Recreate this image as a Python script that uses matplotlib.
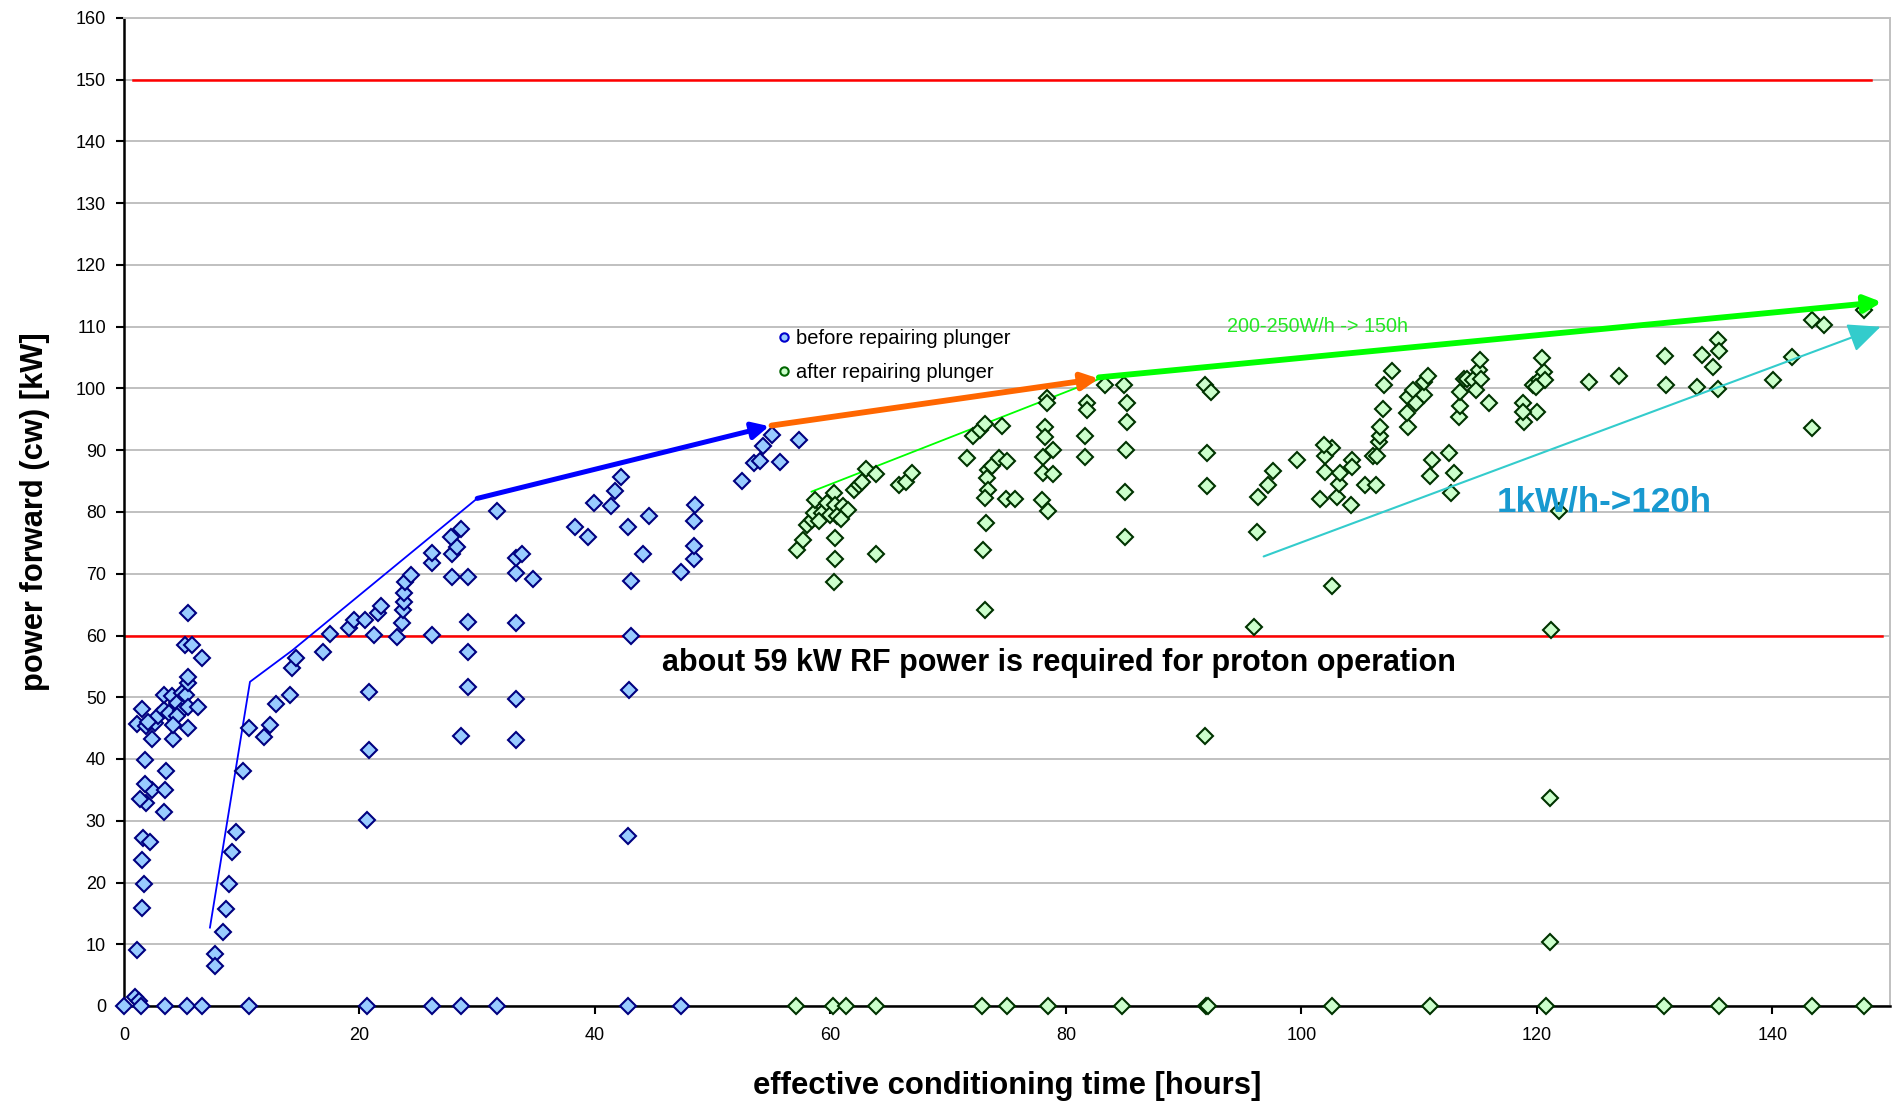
import matplotlib
matplotlib.use("Agg")
import matplotlib.pyplot as plt
from matplotlib import font_manager
from matplotlib.lines import Line2D

# ---------------- data ----------------
before_hours = [0, 0.96, 1.25, 1.45, 3.5, 5.35, 6.6, 10.6, 20.6, 26.2, 28.6, 31.7, 42.8, 47.3,
                1.1, 1.5, 1.7, 1.5, 1.6, 2.2, 1.9, 1.4, 3.4, 2.4, 3.5, 1.8, 3.6, 1.8, 4.2, 2.4,
                1.1, 1.9, 2.6, 2.9, 2.0, 1.5, 3.4, 3.4, 4.1, 4.5, 4.9, 5.3, 3.8, 4.8, 4.5, 4.2,
                5.4, 5.4, 6.3, 5.4, 5.4, 5.2, 5.8, 6.6, 5.4,
                7.7, 7.7, 8.4, 8.7, 8.9, 9.2, 9.5, 10.1, 10.6, 11.9, 12.4, 12.9, 14.1, 14.3, 14.6,
                16.9, 17.5, 19.1, 19.5, 20.5, 21.2, 21.6, 21.8, 20.8, 20.8, 20.6, 23.2, 23.6, 23.7,
                23.8, 23.8, 23.9, 24.4, 26.2, 26.2, 26.2, 27.9, 29.2, 27.9, 28.3, 27.8, 28.6, 29.2,
                29.2, 29.2, 28.6, 31.7, 33.3, 33.3, 33.3, 33.3, 33.3, 33.8, 34.7, 38.3, 39.4, 39.9,
                41.4, 41.7, 42.2, 42.8, 43.1, 43.1, 42.9, 42.8, 44.1, 44.6, 47.3, 48.4, 48.4, 48.4,
                48.5, 52.5, 53.5, 54.0, 54.3, 55.0, 55.7, 57.3]
before_kw = [0, 1.5, 0.8, 0, 0, 0, 0, 0, 0, 0, 0, 0, 0, 0,
             9.1, 15.8, 19.7, 23.6, 27.2, 26.6, 32.8, 33.5, 31.4, 34.9, 34.9, 36.0, 38.1, 39.9, 43.3, 43.3,
             45.7, 45.3, 45.8, 46.9, 46.0, 48.1, 48.0, 50.3, 50.2, 49.1, 50.7, 50.4, 47.5, 47.8, 46.9, 45.5,
             45.1, 48.5, 48.5, 52.3, 53.2, 58.4, 58.4, 56.3, 63.7,
             8.5, 6.4, 12.0, 15.7, 19.8, 24.9, 28.2, 38.0, 45.1, 43.6, 45.5, 48.9, 50.3, 54.7, 56.3,
             57.4, 60.3, 61.2, 62.5, 62.5, 60.1, 63.6, 64.7, 50.9, 41.4, 30.1, 59.8, 62.0, 64.2,
             65.5, 66.9, 68.7, 69.8, 60.1, 71.8, 73.3, 69.4, 69.4, 73.2, 74.4, 75.9, 77.2, 62.2,
             57.4, 51.7, 43.8, 80.2, 62.0, 49.7, 43.1, 70.2, 72.5, 73.2, 69.2, 77.5, 76.0, 81.5,
             80.9, 83.4, 85.7, 77.5, 68.9, 60.0, 51.2, 27.6, 73.2, 79.3, 70.3, 72.4, 74.5, 78.5,
             81.2, 85.1, 87.9, 88.3, 90.7, 92.5, 88.1, 91.7]

after_hours = [57.1, 60.2, 61.3, 63.9, 72.9, 75.0, 78.5, 84.8, 91.9, 92.1, 102.6, 110.9, 120.8,
               130.8, 135.5, 143.4, 147.8,
               57.2, 57.7, 58.0, 58.4, 58.6, 58.7, 59.3, 59.7, 60.0, 60.3, 60.4, 60.6, 61.1, 61.5,
               59.0, 60.9, 60.4, 60.4, 60.3, 62.0, 62.4, 62.7, 63.0, 63.9, 63.9, 65.8, 66.4, 66.9,
               71.6, 72.1, 72.7, 73.1, 74.6, 73.4, 73.7, 74.3, 75.0, 73.3, 73.4, 73.1, 74.9, 75.7,
               73.2, 73.0, 73.1, 78.4, 78.4, 78.2, 78.2, 78.9, 78.1, 78.1, 78.9, 78.0, 78.5, 81.8,
               81.8, 81.6, 81.6,
               83.3, 84.9, 85.2, 85.2, 85.1, 85.0, 85.0, 91.8, 92.3, 92.0, 92.0, 91.8, 96.2, 96.0,
               96.3, 97.2, 97.6, 99.6, 101.6, 102.0, 102.0, 102.6, 101.9, 103.0, 103.2, 103.3,
               104.2, 104.3, 104.3, 102.6, 105.4, 106.3, 106.1, 106.4, 106.6, 106.7, 106.7, 106.9,
               107.0, 107.7, 109.1, 109.0, 109.1, 109.5, 109.7, 110.4, 110.4, 110.8, 111.1, 110.9,
               112.5, 113.0, 112.7, 113.4, 113.5, 113.5, 113.8, 114.1, 114.6, 114.8, 115.1, 115.2,
               115.3, 115.9, 118.8, 118.9, 120.0, 118.8, 119.7, 120.2, 120.6, 120.7, 120.4, 119.9,
               121.9, 121.2, 121.1, 121.1, 124.4,
               127.0, 130.9, 131.0, 133.6, 134.0, 135.4, 135.5, 135.0, 135.4, 140.1, 141.7, 143.4,
               143.4, 144.4, 147.8]
after_kw = [0, 0, 0, 0, 0, 0, 0, 0, 0, 0, 0, 0, 0,
            0, 0, 0, 0,
            73.9, 75.5, 77.9, 78.7, 79.8, 82.0, 79.9, 81.4, 79.5, 83.0, 81.2, 79.3, 81.0, 80.4,
            78.5, 78.8, 75.8, 72.4, 68.7, 83.5, 84.4, 84.9, 86.9, 86.2, 73.2, 84.4, 84.9, 86.3,
            88.7, 92.3, 93.3, 94.2, 94.0, 86.8, 87.4, 88.7, 88.2, 85.5, 83.6, 82.2, 82.1, 82.1,
            78.2, 73.9, 64.2, 98.4, 97.6, 93.8, 92.2, 90.1, 88.9, 86.3, 86.2, 82.0, 80.1, 97.7,
            96.5, 92.3, 88.9,
            100.5, 100.5, 97.6, 94.6, 90.0, 83.3, 76.0, 100.6, 99.5, 89.5, 84.2, 43.8, 76.7, 61.3,
            82.5, 84.4, 86.7, 88.5, 82.1, 86.5, 89.0, 90.3, 90.9, 82.5, 84.6, 86.3,
            81.1, 88.4, 87.3, 68.0, 84.4, 84.4, 89.0, 89.0, 91.4, 92.3, 93.8, 96.7,
            100.5, 102.8, 93.8, 96.0, 98.7, 99.8, 97.6, 99.0, 101.1, 102.0, 88.5, 85.8,
            89.5, 86.3, 83.0, 95.4, 97.1, 99.5, 101.6, 101.6, 101.4, 99.8, 103.0, 104.6,
            101.6, 97.7, 97.6, 94.6, 96.2, 96.2, 100.6, 101.4, 102.7, 101.4, 104.9, 100.3,
            80.1, 60.9, 33.7, 10.4, 101.1,
            102.0, 105.3, 100.5, 100.3, 105.4, 107.9, 106.1, 103.5, 99.9, 101.4, 105.1, 93.6,
            111.1, 110.3, 112.7]

series_labels = ["before repairing plunger", "after repairing plunger"]

# reference lines (kW)
limit_150_hours = [0.8, 148.4]
limit_150_kw = [150, 150]
limit_60_hours = [0, 149.3]
limit_60_kw = [60, 60]

# hand-drawn trend lines / arrows (hours, kW)
blue_thin_hours = [7.3, 10.7, 14.3, 30.0]
blue_thin_kw = [12.7, 52.5, 57.6, 82.2]
blue_arrow_hours = [30.0, 54.8]
blue_arrow_kw = [82.2, 93.9]
orange_arrow_hours = [55.0, 82.8]
orange_arrow_kw = [94.0, 101.6]
green_arrow_hours = [82.8, 149.3]
green_arrow_kw = [101.8, 114.0]
green_thin_hours = [58.4, 82.9]
green_thin_kw = [83.3, 101.6]
cyan_arrow_hours = [96.8, 149.2]
cyan_arrow_kw = [72.8, 110.0]

x_ticks = [0, 20, 40, 60, 80, 100, 120, 140]
y_ticks = list(range(0, 161, 10))

# ---------------- fonts ----------------
names = {f.name for f in font_manager.fontManager.ttflist}
has_narrow = "Liberation Sans Narrow" in names
tick_family = ["Liberation Sans Narrow", "Liberation Sans", "DejaVu Sans"] if has_narrow else ["Liberation Sans", "DejaVu Sans"]
tick_size = 15 if has_narrow else 13
legend_size = 15 if has_narrow else 14.5
plt.rcParams["font.family"] = ["Liberation Sans", "DejaVu Sans"]

# ---------------- figure ----------------
fig = plt.figure(figsize=(18.95, 11.01), dpi=100)
ax = fig.add_axes([124 / 1895, 1 - 1006 / 1101, (1890 - 124) / 1895, (1006 - 18) / 1101])

ax.set_xlim(0, 150)
ax.set_ylim(0, 160)
ax.set_xticks(x_ticks)
ax.set_yticks(y_ticks)
ax.yaxis.grid(True, color="#C0C0C0", lw=1.4)
ax.set_axisbelow(True)

for lbl in ax.get_xticklabels() + ax.get_yticklabels():
    lbl.set_family(tick_family)
    lbl.set_fontsize(tick_size)
ax.tick_params(axis="both", direction="out", length=6, width=1.5, colors="black")
ax.tick_params(axis="y", pad=7)
ax.tick_params(axis="x", pad=9)

ax.spines["left"].set_linewidth(1.8)
ax.spines["bottom"].set_linewidth(1.8)
ax.spines["top"].set_color("#C0C0C0")
ax.spines["top"].set_linewidth(1.4)
ax.spines["right"].set_color("#C0C0C0")
ax.spines["right"].set_linewidth(1.4)

# red limit lines
ax.plot(limit_150_hours, limit_150_kw, color="#FF0000", lw=1.8, zorder=2)
ax.plot(limit_60_hours, limit_60_kw, color="#FF0000", lw=1.8, zorder=2)

# thin trend lines
ax.plot(blue_thin_hours, blue_thin_kw, color="#0000FF", lw=1.3, zorder=2.5)
ax.plot(green_thin_hours, green_thin_kw, color="#00FF00", lw=1.3, zorder=2.5)


def arrow(xs, ys, color, lw, hl, hw, ms, z=4):
    ax.annotate("", xy=(xs[1], ys[1]), xytext=(xs[0], ys[0]),
                arrowprops=dict(arrowstyle=f"-|>,head_length={hl},head_width={hw}",
                                color=color, lw=lw, shrinkA=0, shrinkB=0,
                                mutation_scale=ms),
                zorder=z)


arrow(blue_arrow_hours, blue_arrow_kw, "#0000FF", 3.6, 0.5, 0.25, 20)
arrow(orange_arrow_hours, orange_arrow_kw, "#FF6600", 4.2, 0.5, 0.25, 20)
arrow(green_arrow_hours, green_arrow_kw, "#00FF00", 4.2, 0.5, 0.25, 20)
arrow(cyan_arrow_hours, cyan_arrow_kw, "#33CCCC", 1.5, 1.0, 0.45, 20)

# data points
ax.plot(before_hours, before_kw, ls="none", marker="D", ms=8.6, mfc="#99CCFF",
        mec="#000080", mew=1.5, zorder=3, clip_on=False)
ax.plot(after_hours, after_kw, ls="none", marker="D", ms=8.6, mfc="#CCFFCC",
        mec="#003300", mew=1.5, zorder=3, clip_on=False)

# annotations
ax.text(45.7, 55.5, "about 59 kW RF power is required for proton operation",
        fontsize=22, fontweight="bold", color="black", ha="left", va="center", zorder=5)
ax.text(116.6, 81.7, "1kW/h->120h", fontsize=25.2, fontweight="bold", color="#1899D0",
        ha="left", va="center", zorder=5)
ax.text(93.7, 110.0, "200-250W/h -> 150h", fontsize=14.2, color="#22E822",
        ha="left", va="center", zorder=5, family=tick_family)

# legend
handles = [
    Line2D([], [], ls="none", marker="o", ms=6, mfc="#99CCFF", mec="#0000CC", mew=1.5),
    Line2D([], [], ls="none", marker="o", ms=6, mfc="#CCFFCC", mec="#006600", mew=1.5),
]
ax.legend(handles, series_labels, loc="upper left",
          bbox_to_anchor=(768 / 1895, 1 - 319 / 1101), bbox_transform=fig.transFigure,
          frameon=False, handlelength=0.6, handletextpad=0.3, borderpad=0,
          labelspacing=0.72, prop={"family": tick_family, "size": legend_size})

# axis titles
ax.set_xlabel("effective conditioning time [hours]", fontsize=22.3, fontweight="bold")
ax.set_ylabel("power forward (cw) [kW]", fontsize=22.2, fontweight="bold")
ax.xaxis.set_label_coords(0.5, -0.066)
ax.yaxis.set_label_coords(-0.042, 0.5)

fig.savefig("out.png", dpi=100, facecolor="white")
